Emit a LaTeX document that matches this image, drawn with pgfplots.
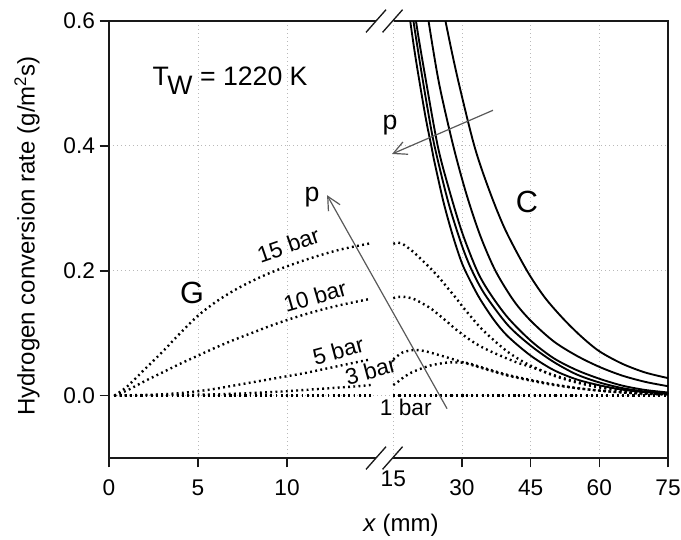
\documentclass[border=0pt]{standalone}
\usepackage{fontspec}
\setmainfont{Liberation Sans}
\usepackage{pgfplots}
\pgfplotsset{compat=1.18}
\usetikzlibrary{arrows.meta}
\newcommand\fs[1]{\fontsize{#1}{#1}\selectfont}
\pgfplotsset{
  sol/.style={black, line width=1.4pt, smooth, no markers},
  dot/.style={black, line width=1.8pt, dash pattern=on 1.4pt off 2.5pt, smooth, no markers},
}
\begin{document}
\begin{tikzpicture}
\path[use as bounding box] (-81.75pt,-60.75pt) rectangle (429pt,343.5pt);
\begin{axis}[
  at={(0,0)}, anchor=south west, scale only axis,
  width=419.25pt, height=327.75pt,
  xmin=0, xmax=31.402, ymin=-0.1, ymax=0.6,
  xtick={0,5,10,19.828,23.686,27.544,31.402},
  xticklabels={0,5,10,30,45,60,75},
  extra x ticks={15.97}, extra x tick labels={15},
  extra x tick style={major tick length=0pt, grid=major},
  ytick={0,0.2,0.4,0.6}, yticklabels={0.0,0.2,0.4,0.6},
  tick pos=left,
  tick align=outside, major tick length=7pt,
  grid=major,
  grid style={gray!55, line width=0.7pt, dash pattern=on 0.8pt off 2.2pt},
  axis line style={black!90, line width=1.2pt},
  tick style={black!90, line width=1.2pt},
  tick label style={font=\fs{17}},
  xticklabel style={yshift=-6pt},
  /pgf/number format/assume math mode=true,
  clip mode=individual,
]
% ---- solid (catalytic) curves
\addplot[sol] coordinates {(16.613,0.67) (16.922,0.600) (17.256,0.535) (17.770,0.448) (18.105,0.400) (18.285,0.374) (18.799,0.309) (19.314,0.256) (19.828,0.212) (20.342,0.181) (20.857,0.154) (21.628,0.121) (22.400,0.095) (23.686,0.064) (24.972,0.041) (26.258,0.026) (27.544,0.0165) (28.830,0.0095) (30.116,0.0055) (31.402,0.003)};
\addplot[sol] coordinates {(16.742,0.674) (17.102,0.600) (17.513,0.525) (17.899,0.459) (18.285,0.400) (19.056,0.310) (19.828,0.240) (20.394,0.200) (21.114,0.162) (22.400,0.113) (23.686,0.080) (24.972,0.054) (26.258,0.034) (27.544,0.021) (28.830,0.012) (30.116,0.0065) (31.402,0.0035)};
\addplot[sol] coordinates {(16.922,0.68) (17.246,0.600) (17.770,0.510) (18.465,0.400) (19.056,0.335) (19.828,0.262) (20.677,0.200) (21.371,0.165) (22.400,0.125) (23.686,0.088) (24.972,0.060) (26.258,0.041) (27.544,0.027) (28.830,0.016) (30.116,0.009) (31.402,0.005)};
\addplot[sol] coordinates {(17.590,0.67) (17.950,0.600) (18.542,0.500) (19.339,0.400) (20.085,0.322) (20.857,0.256) (21.706,0.200) (22.734,0.152) (23.686,0.120) (24.972,0.087) (26.258,0.064) (27.544,0.046) (28.830,0.032) (30.116,0.022) (31.402,0.015)};
\addplot[sol] coordinates {(18.413,0.676) (18.902,0.600) (19.571,0.510) (20.522,0.400) (21.371,0.328) (22.271,0.265) (23.480,0.200) (24.458,0.158) (25.486,0.124) (26.515,0.095) (27.544,0.071) (28.830,0.051) (30.116,0.037) (31.402,0.028)};
% ---- dotted (gas phase) curves, left part 0-15 mm
\addplot[dot] coordinates {(0.3,0) (1,0.014) (2,0.042) (3,0.070) (4,0.100) (5,0.128) (6,0.150) (7,0.168) (8,0.183) (9,0.196) (10,0.207) (11,0.217) (12,0.226) (13,0.234) (14,0.240) (14.7,0.244)};
\addplot[dot] coordinates {(0.3,0) (1,0.008) (2,0.023) (3,0.037) (4,0.051) (5,0.064) (6,0.077) (7,0.089) (8,0.100) (9,0.111) (10,0.121) (11,0.130) (12,0.138) (13,0.145) (14,0.151) (14.7,0.155)};
\addplot[dot] coordinates {(0.3,0) (2,0.001) (3,0.002) (4,0.004) (5,0.007) (6,0.011) (7,0.016) (8,0.021) (9,0.026) (10,0.031) (11,0.036) (12,0.042) (13,0.048) (14,0.054) (14.7,0.058)};
\addplot[dot] coordinates {(0.3,0) (4,0.001) (6,0.002) (8,0.004) (10,0.007) (11,0.009) (12,0.011) (13,0.013) (14,0.015) (14.7,0.017)};
\addplot[dot] coordinates {(0.3,0) (14.7,0)};
% ---- dotted curves, right part 15-75 mm
\addplot[dot] coordinates {(15.970,0.243) (16.227,0.245) (16.484,0.243) (16.742,0.238) (17.102,0.230) (17.513,0.219) (18.053,0.204) (18.542,0.189) (19.005,0.173) (19.442,0.158) (19.905,0.141) (20.342,0.126) (20.857,0.109) (21.371,0.095) (21.886,0.082) (22.400,0.070) (23.094,0.057) (23.686,0.048) (24.972,0.032) (26.258,0.021) (27.544,0.013) (28.830,0.008) (30.116,0.005) (31.402,0.003)};
\addplot[dot] coordinates {(15.970,0.156) (16.227,0.158) (16.613,0.158) (17.102,0.155) (17.513,0.149) (18.053,0.140) (18.542,0.129) (19.005,0.118) (19.442,0.107) (19.905,0.097) (20.342,0.088) (20.857,0.079) (21.500,0.070) (22.143,0.062) (22.914,0.053) (23.686,0.046) (24.972,0.033) (26.258,0.022) (27.544,0.014) (28.830,0.009) (30.116,0.005) (31.402,0.003)};
\addplot[dot] coordinates {(15.970,0.058) (16.227,0.064) (16.484,0.069) (16.870,0.072) (17.256,0.073) (17.770,0.071) (18.285,0.067) (19.005,0.061) (19.571,0.056) (20.137,0.051) (20.728,0.046) (21.423,0.040) (22.400,0.032) (23.686,0.024) (24.972,0.017) (26.258,0.012) (27.544,0.008) (28.830,0.005) (30.116,0.003) (31.402,0.002)};
\addplot[dot] coordinates {(15.970,0.017) (16.227,0.022) (16.536,0.029) (16.999,0.037) (17.513,0.043) (18.028,0.048) (18.542,0.051) (19.056,0.053) (19.571,0.053) (20.137,0.052) (20.728,0.047) (21.423,0.041) (22.400,0.033) (23.686,0.025) (24.972,0.018) (26.258,0.012) (27.544,0.008) (28.830,0.005) (30.116,0.003) (31.402,0.002)};
\addplot[dot] coordinates {(15.970,0) (31.402,0)};
% ---- axis break
\draw[white, line width=3pt] (axis cs:15.0,0.6) -- (axis cs:15.93,0.6);
\draw[white, line width=3pt] (axis cs:15.0,-0.1) -- (axis cs:15.93,-0.1);
\draw[black!90, line width=1pt] (axis cs:15.0,0.6) ++(-7.5pt,-8.5pt) -- ++(15pt,17pt);
\draw[black!90, line width=1pt] (axis cs:15.93,0.6) ++(-7.5pt,-8.5pt) -- ++(15pt,17pt);
\draw[black!90, line width=1pt] (axis cs:15.0,-0.1) ++(-7.5pt,-8.5pt) -- ++(15pt,17pt);
\draw[black!90, line width=1pt] (axis cs:15.93,-0.1) ++(-7.5pt,-8.5pt) -- ++(15pt,17pt);
% ---- arrows
\draw[black!65, line width=0.9pt, -{Straight Barb[length=10pt,width=10pt]}] (axis cs:18.99,-0.021) -- (axis cs:12.25,0.321);
\draw[black!65, line width=0.9pt, -{Straight Barb[length=10pt,width=10pt]}] (axis cs:21.57,0.457) -- (axis cs:15.9,0.387);
% ---- annotations
\node[font=\fs{20}] at (axis cs:6.8,0.505) {T\kern-1pt\raisebox{-0.65ex}{W} = 1220 K};
\node[font=\fs{23}] at (axis cs:4.66,0.165) {G};
\node[font=\fs{23}] at (axis cs:23.48,0.31) {C};
\node[font=\fs{20}] at (axis cs:11.4,0.318) {p};
\node[font=\fs{20}] at (axis cs:15.79,0.433) {p};
\node[font=\fs{17}, rotate=19] at (axis cs:10.07,0.241) {15 bar};
\node[font=\fs{17}, rotate=16] at (axis cs:11.57,0.159) {10 bar};
\node[font=\fs{17}, rotate=15] at (axis cs:12.88,0.072) {5 bar};
\node[font=\fs{17}, rotate=15] at (axis cs:14.7,0.040) {3 bar};
\node[font=\fs{17}] at (axis cs:16.67,-0.019) {1 bar};
\end{axis}
\node[rotate=90, font=\fs{18}] at (-61.5pt,166.5pt) {Hydrogen conversion rate (g/m\textsuperscript{2}s)};
\node[font=\fs{18}] at (219pt,-50.25pt) {\textit{x} (mm)};
\end{tikzpicture}
\end{document}
